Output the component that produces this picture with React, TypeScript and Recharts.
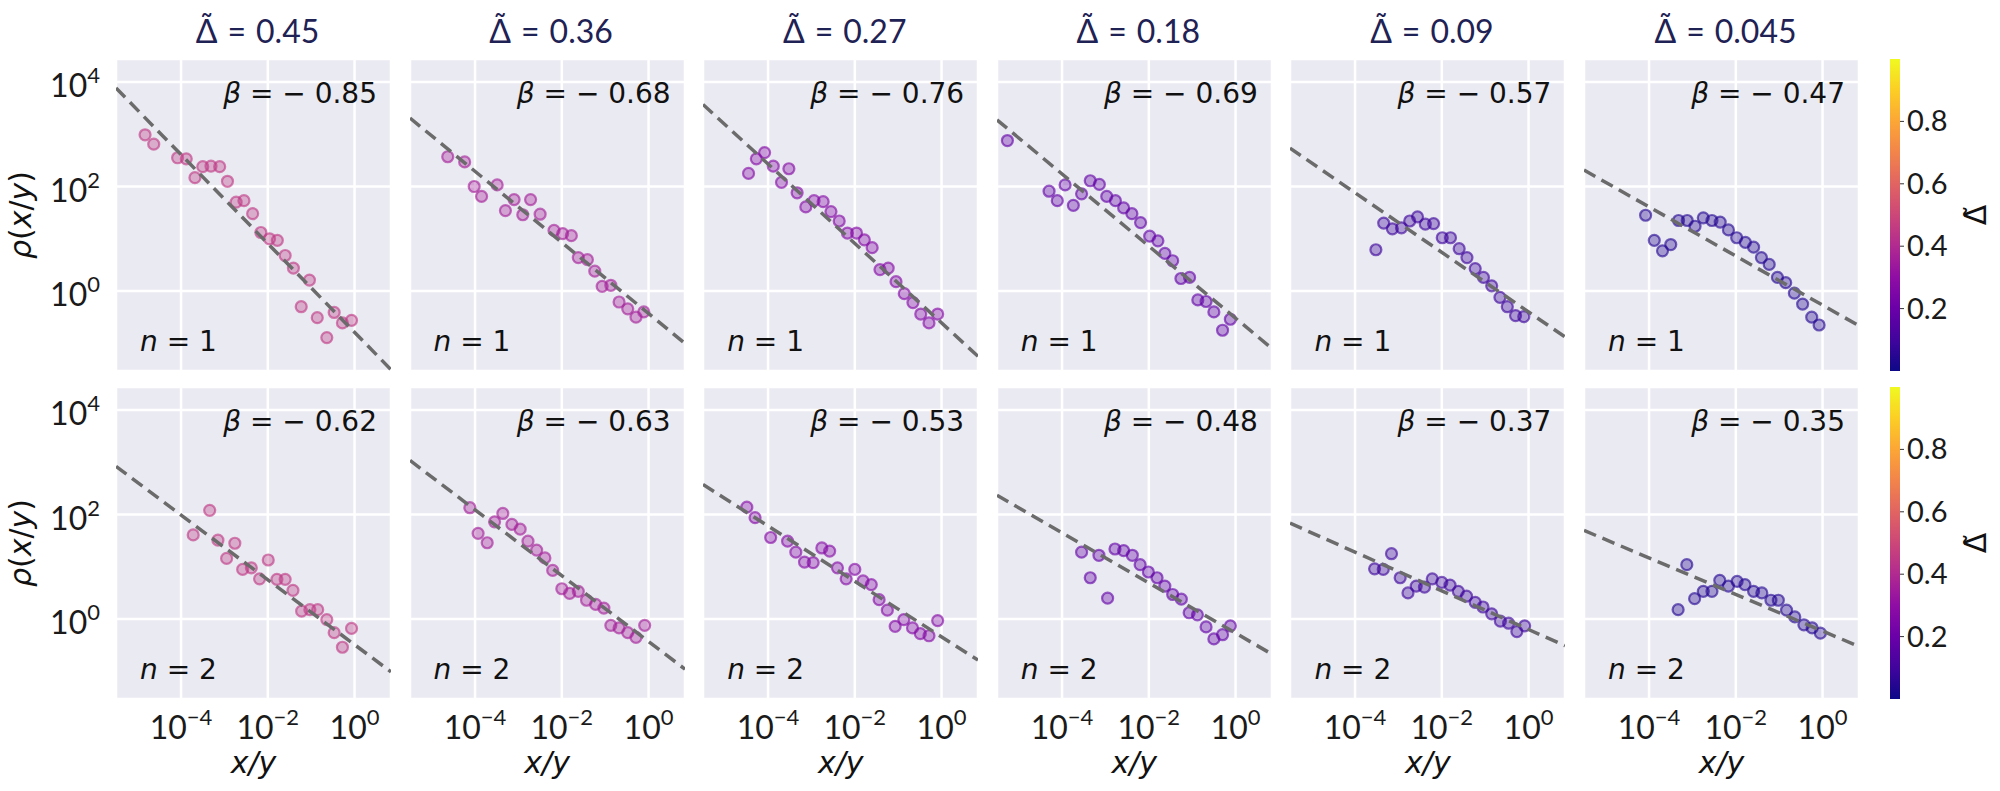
import { ScatterChart, Scatter, XAxis, YAxis, CartesianGrid, BarChart, Bar } from 'recharts';

/* ------------------------------------------------------------------ */
/*  Data (log10 of x/y and log10 of rho)          */
/* ------------------------------------------------------------------ */
const deltas = ['0.45', '0.36', '0.27', '0.18', '0.09', '0.045'];
const deltaColors = ['#be3884', '#a31e98', '#8409a5', '#6201a6', '#3c049b', '#240691'];

const betaN1 = [-0.85, -0.68, -0.76, -0.69, -0.57, -0.47];
const interceptN1 = [-0.79, -0.43, -0.61, -0.52, -0.4, -0.27];
const betaN2 = [-0.62, -0.63, -0.53, -0.48, -0.37, -0.35];
const interceptN2 = [-0.49, -0.43, -0.34, -0.27, -0.2, -0.23];

const xTicks = [1e-4, 1e-2, 1];
const yTicks = [1, 1e2, 1e4];
const colorbarTicks = [0.2, 0.4, 0.6, 0.8];

const n1d045 = [
  [-4.83, 2.99], [-4.63, 2.81], [-4.08, 2.55], [-3.88, 2.53], [-3.68, 2.17], [-3.5, 2.38],
  [-3.31, 2.39], [-3.11, 2.38], [-2.93, 2.1], [-2.73, 1.7], [-2.55, 1.73], [-2.35, 1.48],
  [-2.16, 1.12], [-1.96, 1.0], [-1.78, 0.97], [-1.6, 0.68], [-1.41, 0.44], [-1.04, 0.21],
  [-1.23, -0.3], [-0.86, -0.51], [-0.47, -0.41], [-0.28, -0.61], [-0.07, -0.56], [-0.64, -0.89],
];
const n1d036 = [
  [-4.63, 2.57], [-4.24, 2.47], [-4.02, 2.0], [-3.85, 1.81], [-3.49, 2.03], [-3.3, 1.54],
  [-3.1, 1.75], [-2.9, 1.46], [-2.72, 1.75], [-2.5, 1.47], [-2.18, 1.16], [-1.98, 1.1],
  [-1.78, 1.06], [-1.62, 0.64], [-1.41, 0.6], [-1.24, 0.38], [-1.07, 0.09], [-0.87, 0.11],
  [-0.68, -0.21], [-0.48, -0.34], [-0.29, -0.5], [-0.11, -0.4],
];
const n1d027 = [
  [-4.45, 2.25], [-4.27, 2.53], [-4.08, 2.65], [-3.88, 2.39], [-3.69, 2.08], [-3.52, 2.34],
  [-3.33, 1.88], [-3.13, 1.61], [-2.94, 1.73], [-2.73, 1.71], [-2.55, 1.52], [-2.36, 1.34],
  [-2.17, 1.11], [-1.96, 1.11], [-1.78, 0.98], [-1.6, 0.83], [-1.42, 0.41], [-1.23, 0.44],
  [-1.05, 0.18], [-0.86, -0.05], [-0.66, -0.22], [-0.48, -0.44], [-0.29, -0.61], [-0.09, -0.44],
];
const n1d018 = [
  [-5.26, 2.88], [-4.3, 1.91], [-4.11, 1.73], [-3.93, 2.03], [-3.74, 1.64], [-3.55, 1.86],
  [-3.35, 2.11], [-3.14, 2.04], [-2.97, 1.81], [-2.77, 1.73], [-2.58, 1.59], [-2.39, 1.48],
  [-2.19, 1.31], [-1.98, 1.05], [-1.79, 0.96], [-1.63, 0.72], [-1.45, 0.58], [-1.26, 0.24],
  [-1.06, 0.26], [-0.87, -0.17], [-0.68, -0.2], [-0.5, -0.4], [-0.3, -0.75], [-0.12, -0.54],
];
const n1d009 = [
  [-3.52, 0.79], [-3.34, 1.3], [-3.14, 1.19], [-2.93, 1.21], [-2.74, 1.34], [-2.56, 1.42],
  [-2.38, 1.28], [-2.19, 1.29], [-1.99, 1.02], [-1.8, 1.02], [-1.6, 0.81], [-1.42, 0.64],
  [-1.23, 0.43], [-1.04, 0.26], [-0.85, 0.1], [-0.66, -0.12], [-0.49, -0.3], [-0.3, -0.47],
  [-0.11, -0.49],
];
const n1d0045 = [
  [-4.08, 1.45], [-3.88, 0.97], [-3.69, 0.77], [-3.5, 0.89], [-3.32, 1.35], [-3.12, 1.35],
  [-2.94, 1.24], [-2.75, 1.4], [-2.55, 1.35], [-2.36, 1.32], [-2.17, 1.17], [-1.98, 1.02],
  [-1.78, 0.93], [-1.59, 0.84], [-1.41, 0.64], [-1.23, 0.51], [-1.04, 0.26], [-0.85, 0.16],
  [-0.65, -0.04], [-0.46, -0.25], [-0.25, -0.5], [-0.08, -0.65],
];

const n2d045 = [
  [-3.72, 1.61], [-3.34, 2.08], [-3.15, 1.51], [-2.95, 1.16], [-2.76, 1.45], [-2.58, 0.95],
  [-2.38, 0.98], [-2.19, 0.77], [-1.99, 1.13], [-1.79, 0.76], [-1.6, 0.76], [-1.42, 0.55],
  [-1.22, 0.15], [-1.03, 0.18], [-0.85, 0.18], [-0.64, -0.01], [-0.47, -0.26], [-0.28, -0.54],
  [-0.07, -0.18],
];
const n2d036 = [
  [-4.12, 2.13], [-3.93, 1.64], [-3.72, 1.46], [-3.55, 1.86], [-3.36, 2.02], [-3.15, 1.81],
  [-2.96, 1.72], [-2.78, 1.49], [-2.58, 1.32], [-2.39, 1.17], [-2.21, 0.93], [-2.0, 0.58],
  [-1.82, 0.49], [-1.62, 0.53], [-1.43, 0.36], [-1.22, 0.28], [-1.03, 0.21], [-0.87, -0.12],
  [-0.68, -0.17], [-0.48, -0.26], [-0.29, -0.35], [-0.09, -0.12],
];
const n2d027 = [
  [-4.49, 2.14], [-4.3, 1.94], [-3.94, 1.56], [-3.55, 1.49], [-3.36, 1.28], [-3.16, 1.09],
  [-2.96, 1.08], [-2.76, 1.36], [-2.58, 1.3], [-2.4, 0.98], [-2.2, 0.77], [-2.0, 0.95],
  [-1.81, 0.73], [-1.62, 0.66], [-1.44, 0.37], [-1.25, 0.17], [-1.07, -0.14], [-0.87, -0.01],
  [-0.67, -0.17], [-0.49, -0.28], [-0.29, -0.32], [-0.09, -0.03],
];
const n2d018 = [
  [-3.55, 1.28], [-3.35, 0.79], [-3.15, 1.22], [-2.95, 0.4], [-2.78, 1.34], [-2.58, 1.31],
  [-2.38, 1.22], [-2.2, 1.04], [-2.01, 0.9], [-1.81, 0.79], [-1.63, 0.63], [-1.45, 0.47],
  [-1.25, 0.38], [-1.07, 0.12], [-0.88, 0.08], [-0.68, -0.15], [-0.5, -0.38], [-0.3, -0.3],
  [-0.12, -0.13],
];
const n2d009 = [
  [-3.55, 0.96], [-3.35, 0.95], [-3.16, 1.25], [-2.96, 0.79], [-2.78, 0.5], [-2.59, 0.63],
  [-2.4, 0.61], [-2.22, 0.77], [-2.0, 0.7], [-1.81, 0.65], [-1.62, 0.53], [-1.43, 0.44],
  [-1.23, 0.32], [-1.05, 0.23], [-0.85, 0.1], [-0.65, -0.04], [-0.46, -0.08], [-0.27, -0.24],
  [-0.09, -0.13],
];
const n2d0045 = [
  [-3.33, 0.18], [-3.13, 1.04], [-2.95, 0.39], [-2.75, 0.53], [-2.55, 0.53], [-2.37, 0.74],
  [-2.17, 0.63], [-1.97, 0.72], [-1.79, 0.66], [-1.59, 0.53], [-1.4, 0.5], [-1.19, 0.36],
  [-1.02, 0.36], [-0.83, 0.17], [-0.64, 0.04], [-0.43, -0.11], [-0.24, -0.17], [-0.05, -0.27],
];

const pointsN1 = [n1d045, n1d036, n1d027, n1d018, n1d009, n1d0045];
const pointsN2 = [n2d045, n2d036, n2d027, n2d018, n2d009, n2d0045];

// plasma colormap stops for the colour bar
const plasmaStops = [
  '#0d0887', '#41049d', '#6a00a8', '#8f0da4', '#b12a90', '#cc4778',
  '#e16462', '#f2844b', '#fca636', '#fcce25', '#f0f921',
];

/* ------------------------------------------------------------------ */
/*  Layout                                                             */
/* ------------------------------------------------------------------ */
const X_LOG = [-5.5, 0.84];
const Y_LOG = [-1.53, 4.44];
const X_DOMAIN = [10 ** X_LOG[0], 10 ** X_LOG[1]];
const Y_DOMAIN = [10 ** Y_LOG[0], 10 ** Y_LOG[1]];
const COL_LEFT = 116;
const COL_PITCH = 293.6;
const PLOT_W = 275;
const PLOT_H = 312;
const ROW_TOP = [59, 387];
const Y_AXIS_W = 116;
const X_AXIS_H = 92;
const CBAR_LEFT = 1890;
const CBAR_W = 10;

const toPts = (arr: number[][]) => arr.map(([lx, ly]) => ({ x: 10 ** lx, y: 10 ** ly }));
const fitPts = (b: number, a: number) =>
  X_LOG.map((lx) => ({ x: 10 ** lx, y: 10 ** (a + b * lx) }));

const expLabel = (v: number) => {
  const e = Math.round(Math.log10(v));
  return e < 0 ? `\u2212${-e}` : `${e}`;
};

function EmptyTick() {
  return <g />;
}

function XTick({ x, y, payload }: any) {
  return (
    <text x={x} y={y + 40} textAnchor="middle" fontFamily="Lato" fontSize={32} fill="#1a1a1a">
      10
      <tspan dy={-14} fontSize={22}>
        {expLabel(payload.value)}
      </tspan>
    </text>
  );
}

function YTick({ x, y, payload }: any) {
  return (
    <text x={x - 16} y={y + 15} textAnchor="end" fontFamily="Lato" fontSize={32} fill="#1a1a1a">
      10
      <tspan dy={-14} fontSize={22}>
        {expLabel(payload.value)}
      </tspan>
    </text>
  );
}

function CbarTick({ x, y, payload }: any) {
  return (
    <text x={x} y={y + 10} textAnchor="start" fontFamily="Lato" fontSize={29} fill="#1a1a1a">
      {payload.value.toFixed(1)}
    </text>
  );
}

function Panel({ row, col }: { row: number; col: number }) {
  const color = deltaColors[col];
  const pts = toPts((row === 0 ? pointsN1 : pointsN2)[col]);
  const fit =
    row === 0 ? fitPts(betaN1[col], interceptN1[col]) : fitPts(betaN2[col], interceptN2[col]);
  const yW = col === 0 ? Y_AXIS_W : 0;
  const xH = row === 1 ? X_AXIS_H : 0;
  const left = COL_LEFT + col * COL_PITCH - yW;

  const dot = (p: any) => (
    <circle
      cx={p.cx}
      cy={p.cy}
      r={5.5}
      fill={color}
      fillOpacity={0.35}
      stroke={color}
      strokeOpacity={0.62}
      strokeWidth={2.2}
    />
  );

  return (
    <div style={{ position: 'absolute', left, top: ROW_TOP[row] }}>
      <ScatterChart
        width={PLOT_W + yW}
        height={PLOT_H + xH}
        margin={{ top: 0, right: 0, bottom: 0, left: 0 }}
      >
        <CartesianGrid fill="#eaeaf2" fillOpacity={1} stroke="#ffffff" strokeWidth={2.5} />
        <XAxis
          type="number"
          dataKey="x"
          scale="log"
          domain={X_DOMAIN}
          allowDataOverflow
          ticks={xTicks}
          interval={0}
          height={xH}
          tick={row === 1 ? <XTick /> : <EmptyTick />}
          tickSize={0}
          tickMargin={0}
          axisLine={false}
          tickLine={false}
        />
        <YAxis
          type="number"
          dataKey="y"
          scale="log"
          domain={Y_DOMAIN}
          allowDataOverflow
          ticks={yTicks}
          interval={0}
          width={yW}
          tick={col === 0 ? <YTick /> : <EmptyTick />}
          tickSize={0}
          tickMargin={0}
          axisLine={false}
          tickLine={false}
        />
        <Scatter data={pts} shape={dot} isAnimationActive={false} />
        <Scatter
          data={fit}
          shape={() => <g />}
          line={{ stroke: '#6b6b6b', strokeWidth: 3.5, strokeDasharray: '13 7' }}
          isAnimationActive={false}
        />
      </ScatterChart>
    </div>
  );
}

function ColorBar({ row }: { row: number }) {
  const id = `plasma-${row}`;
  return (
    <div style={{ position: 'absolute', left: CBAR_LEFT, top: ROW_TOP[row] }}>
      <BarChart
        width={CBAR_W + 70}
        height={PLOT_H}
        data={[{ name: 'cbar', value: 1 }]}
        margin={{ top: 0, right: 0, bottom: 0, left: 0 }}
        barCategoryGap={0}
      >
        <defs>
          <linearGradient id={id} x1="0" y1="1" x2="0" y2="0">
            {plasmaStops.map((c, i) => (
              <stop key={i} offset={`${i * 10}%`} stopColor={c} />
            ))}
          </linearGradient>
        </defs>
        <XAxis dataKey="name" hide />
        <YAxis
          orientation="right"
          type="number"
          domain={[0, 1]}
          ticks={colorbarTicks}
          interval={0}
          width={70}
          axisLine={false}
          tickSize={4}
          tickMargin={3}
          tickLine={{ stroke: '#333', strokeWidth: 1 }}
          tick={<CbarTick />}
        />
        <Bar dataKey="value" fill={`url(#${id})`} isAnimationActive={false} />
      </BarChart>
    </div>
  );
}

export default function App() {
  const cols = [0, 1, 2, 3, 4, 5];
  const rows = [0, 1];
  return (
    <div
      style={{
        position: 'absolute',
        left: 0,
        top: 0,
        width: 2000,
        height: 791,
        background: '#ffffff',
        overflow: 'hidden',
      }}
    >
      {rows.map((r) => cols.map((c) => <Panel key={`${r}-${c}`} row={r} col={c} />))}
      {rows.map((r) => (
        <ColorBar key={r} row={r} />
      ))}
      <svg
        width={2000}
        height={791}
        style={{ position: 'absolute', left: 0, top: 0, pointerEvents: 'none' }}
      >
        {cols.map((c) => {
          const cx = COL_LEFT + c * COL_PITCH + PLOT_W / 2;
          const right = COL_LEFT + c * COL_PITCH + PLOT_W;
          const lft = COL_LEFT + c * COL_PITCH;
          return (
            <g key={c}>
              <text x={cx + 4} y={43} textAnchor="middle" fontFamily="Lato" fontSize={32} fill="#1f2254">
                <tspan>{'\u0394\u0303'}</tspan>
                <tspan dx={10}>=</tspan>
                <tspan dx={10}>{deltas[c]}</tspan>
              </text>
              {rows.map((r) => {
                const b = r === 0 ? betaN1[c] : betaN2[c];
                return (
                  <g key={r}>
                    <text
                      x={right - 14}
                      y={ROW_TOP[r] + 44}
                      textAnchor="end"
                      fontFamily="DejaVu Sans"
                      fontSize={28}
                      fill="#111"
                    >
                      <tspan fontStyle="italic">β</tspan> = − {Math.abs(b).toFixed(2)}
                    </text>
                    <text
                      x={lft + 24}
                      y={ROW_TOP[r] + PLOT_H - 20}
                      fontFamily="DejaVu Sans"
                      fontSize={28}
                      fill="#111"
                    >
                      <tspan fontStyle="italic">n</tspan> = {r + 1}
                    </text>
                  </g>
                );
              })}
              <text
                x={cx}
                y={773}
                textAnchor="middle"
                fontFamily="DejaVu Sans"
                fontStyle="italic"
                fontSize={30}
                fill="#111"
              >
                x/y
              </text>
            </g>
          );
        })}
        {rows.map((r) => {
          const cy = ROW_TOP[r] + PLOT_H / 2;
          return (
            <g key={r}>
              <text
                x={31}
                y={cy}
                transform={`rotate(-90, 31, ${cy})`}
                textAnchor="middle"
                fontFamily="DejaVu Sans"
                fontSize={30}
                fill="#111"
              >
                <tspan fontStyle="italic">ρ</tspan>(<tspan fontStyle="italic">x</tspan>/
                <tspan fontStyle="italic">y</tspan>)
              </text>
              <text
                x={1986}
                y={cy}
                transform={`rotate(-90, 1986, ${cy})`}
                textAnchor="middle"
                fontFamily="DejaVu Sans"
                fontSize={30}
                fill="#111"
              >
                {'\u0394\u0303'}
              </text>
            </g>
          );
        })}
      </svg>
    </div>
  );
}
